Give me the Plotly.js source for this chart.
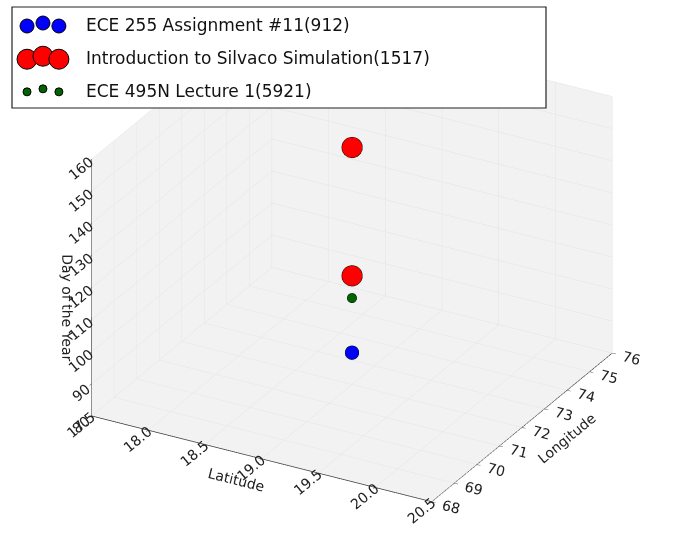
<!DOCTYPE html>
<html>
<head>
<meta charset="utf-8">
<script src="https://cdn.plot.ly/plotly-3.0.1.min.js"></script>
<style>
  html, body { margin: 0; padding: 0; background: #fff; }
  #chart { width: 693px; height: 544px; }
</style>
</head>
<body>
<div id="chart"></div>
<script>
// Events per series: name, colour, marker size and their place/date
const seriesNames = [
  "ECE 255 Assignment #11(912)",
  "Introduction to Silvaco Simulation(1517)",
  "ECE 495N Lecture 1(5921)"
];
const seriesColors = ["#0000ff", "#ff0000", "#006400"];
const seriesSizes = [8, 12, 5.5];

const latitudes = [[19.0], [19.0, 19.0], [19.0]];
const longitudes = [[72.0], [72.0, 72.0], [72.0]];
const daysOfYear = [[90], [114, 154], [107]];

// Axis ticks
const latTicks = [17.5, 18.0, 18.5, 19.0, 19.5, 20.0, 20.5];
const lonTicks = [68, 69, 70, 71, 72, 73, 74, 75, 76];
const dayTicks = [80, 90, 100, 110, 120, 130, 140, 150, 160];

const FONT = "DejaVu Sans, sans-serif";

const traces = seriesNames.map((name, i) => ({
  type: "scatter3d",
  mode: "markers",
  name: name,
  x: latitudes[i],
  y: longitudes[i],
  z: daysOfYear[i],
  showlegend: false,
  marker: {
    color: seriesColors[i],
    size: seriesSizes[i],
    opacity: 1,
    line: { color: "#000000", width: 1 }
  }
}));

function axis(title, ticks, fmt) {
  return {
    title: { text: title, font: { family: FONT, size: 14, color: "#222" } },
    range: [ticks[0], ticks[ticks.length - 1]],
    tickvals: ticks,
    ticktext: ticks.map(v => fmt ? v.toFixed(1) : String(v)),
    tickfont: { family: FONT, size: 13, color: "#222" },
    showbackground: true,
    backgroundcolor: "#f2f2f2",
    gridcolor: "#e3e3e3",
    gridwidth: 1,
    showline: true,
    linecolor: "#333",
    linewidth: 1.5,
    zeroline: false,
    ticks: "outside",
    ticklen: 4,
    tickcolor: "#333",
    showspikes: false
  };
}

// Hand-built legend: three markers per entry, like a scatter legend
const shapes = [];
const annotations = [];
const rowY = [0.954, 0.893, 0.833];
const dotX = [0.039, 0.062, 0.085];
const legendDiam = [14, 20, 8];
seriesNames.forEach((name, i) => {
  const r = legendDiam[i] / 2;
  dotX.forEach((cx, k) => {
    const px = cx * 693, py = (1 - rowY[i]) * 544 + (k === 1 ? -2 : 1);
    shapes.push({
      type: "circle", xref: "paper", yref: "paper",
      x0: (px - r) / 693, x1: (px + r) / 693,
      y0: 1 - (py + r) / 544, y1: 1 - (py - r) / 544,
      fillcolor: seriesColors[i],
      line: { color: "#000", width: 1 }
    });
  });
  annotations.push({
    xref: "paper", yref: "paper", x: 0.121, y: rowY[i],
    xanchor: "left", yanchor: "middle", showarrow: false,
    text: name, font: { family: FONT, size: 17, color: "#111" }
  });
});
shapes.unshift({
  type: "rect", xref: "paper", yref: "paper",
  x0: 12 / 693, x1: 546 / 693, y0: 1 - 108 / 544, y1: 1 - 7 / 544,
  fillcolor: "#ffffff", line: { color: "#222", width: 1.2 }
});

const layout = {
  width: 693, height: 544,
  margin: { l: 0, r: 0, t: 0, b: 0 },
  paper_bgcolor: "#ffffff",
  showlegend: false,
  font: { family: FONT },
  scene: {
    domain: { x: [0.0, 1.0], y: [0.0, 1.0] },
    aspectmode: "manual",
    aspectratio: { x: 1.43, y: 1.37, z: 1.06 },
    xaxis: axis("Latitude", latTicks, true),
    yaxis: axis("Longitude", lonTicks, false),
    zaxis: axis("Day of the Year", dayTicks, false),
    camera: {
      eye: { x: 0.47, y: -0.89, z: 0.45 },
      center: { x: -0.017, y: -0.01, z: -0.065 },
      up: { x: 0, y: 0, z: 1 },
      projection: { type: "orthographic" }
    }
  },
  shapes: shapes,
  annotations: annotations
};

Plotly.newPlot("chart", traces, layout, { displayModeBar: false });
</script>
</body>
</html>
